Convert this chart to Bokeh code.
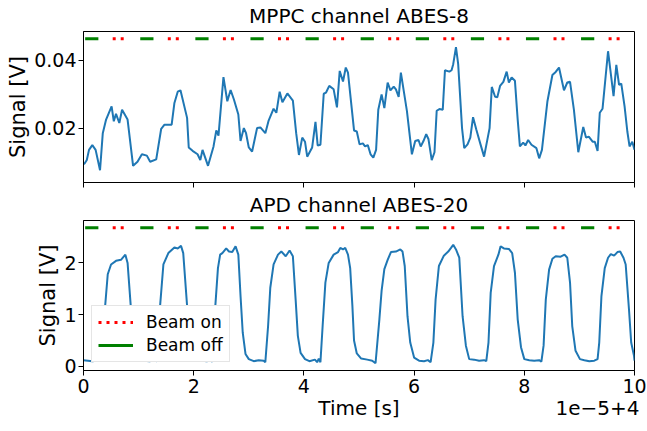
from bokeh.plotting import figure
from bokeh.models import Range1d, FixedTicker, Legend, LegendItem, LinearAxis
from bokeh.layouts import column
from bokeh.embed import file_html
from bokeh.resources import INLINE

# ---------------- data ----------------
t_mppc = [0.00, 0.02, 0.06, 0.10, 0.16, 0.22, 0.30, 0.35, 0.41, 0.51, 0.55, 0.59, 0.65, 0.70,
          0.80, 0.90, 0.98, 1.06, 1.15, 1.21, 1.32, 1.41, 1.47, 1.60, 1.65, 1.71, 1.76, 1.88,
          1.91, 1.98, 2.07, 2.12, 2.16, 2.26, 2.36, 2.41, 2.45, 2.54, 2.61, 2.67, 2.73, 2.81,
          2.85, 2.91, 2.95, 3.00, 3.06, 3.15, 3.21, 3.30, 3.36, 3.45, 3.50, 3.56, 3.61, 3.70,
          3.80, 3.86, 3.91, 3.97, 4.02, 4.06, 4.15, 4.21, 4.25, 4.30, 4.36, 4.40, 4.46, 4.54,
          4.60, 4.65, 4.71, 4.76, 4.80, 4.91, 4.96, 5.01, 5.07, 5.11, 5.16, 5.21, 5.26, 5.31,
          5.35, 5.41, 5.46, 5.52, 5.57, 5.63, 5.67, 5.72, 5.76, 5.87, 5.96, 6.02, 6.08, 6.12,
          6.17, 6.22, 6.26, 6.32, 6.37, 6.41, 6.46, 6.52, 6.56, 6.64, 6.68, 6.71, 6.76, 6.80,
          6.87, 6.91, 6.97, 7.02, 7.07, 7.13, 7.20, 7.27, 7.37, 7.41, 7.47, 7.51, 7.56, 7.62,
          7.68, 7.72, 7.77, 7.83, 7.88, 7.92, 7.98, 8.02, 8.07, 8.13, 8.22, 8.27, 8.32, 8.42,
          8.51, 8.57, 8.63, 8.72, 8.78, 8.83, 8.90, 8.98, 9.07, 9.12, 9.17, 9.24, 9.28, 9.33,
          9.37, 9.42, 9.52, 9.62, 9.67, 9.72, 9.76, 9.82, 9.87, 9.91, 9.96, 10.00]
v_mppc = [0.0094, 0.0096, 0.0106, 0.0136, 0.0150, 0.0136, 0.0076, 0.0185, 0.0225, 0.0264, 0.0220,
          0.0242, 0.0215, 0.0254, 0.0225, 0.0089, 0.0101, 0.0123, 0.0119, 0.0101, 0.0108, 0.0198,
          0.0210, 0.0210, 0.0274, 0.0307, 0.0311, 0.0230, 0.0143, 0.0133, 0.0123, 0.0106, 0.0136,
          0.0089, 0.0146, 0.0193, 0.0178, 0.0350, 0.0279, 0.0312, 0.0284, 0.0240, 0.0162, 0.0200,
          0.0185, 0.0143, 0.0131, 0.0200, 0.0202, 0.0185, 0.0222, 0.0257, 0.0245, 0.0307, 0.0276,
          0.0302, 0.0281, 0.0185, 0.0121, 0.0172, 0.0160, 0.0116, 0.0143, 0.0218, 0.0149, 0.0151,
          0.0301, 0.0304, 0.0324, 0.0314, 0.0261, 0.0368, 0.0337, 0.0378, 0.0363, 0.0193, 0.0190,
          0.0152, 0.0155, 0.0146, 0.0150, 0.0123, 0.0113, 0.0136, 0.0254, 0.0299, 0.0259, 0.0334,
          0.0311, 0.0322, 0.0314, 0.0292, 0.0363, 0.0250, 0.0123, 0.0162, 0.0165, 0.0146, 0.0162,
          0.0182, 0.0168, 0.0106, 0.0129, 0.0251, 0.0256, 0.0254, 0.0370, 0.0366, 0.0370, 0.0388,
          0.0438, 0.0388, 0.0200, 0.0141, 0.0152, 0.0172, 0.0232, 0.0195, 0.0155, 0.0116, 0.0200,
          0.0321, 0.0292, 0.0291, 0.0324, 0.0336, 0.0366, 0.0334, 0.0349, 0.0339, 0.0225, 0.0146,
          0.0157, 0.0149, 0.0165, 0.0151, 0.0141, 0.0111, 0.0136, 0.0279, 0.0356, 0.0365, 0.0378,
          0.0311, 0.0334, 0.0336, 0.0254, 0.0129, 0.0203, 0.0172, 0.0175, 0.0160, 0.0160, 0.0133,
          0.0245, 0.0257, 0.0426, 0.0294, 0.0386, 0.0327, 0.0331, 0.0264, 0.0190, 0.0146, 0.0160,
          0.0136]

t_apd = [0.00, 0.08, 0.16, 0.24, 0.31, 0.35, 0.38, 0.44, 0.50, 0.59, 0.68, 0.76, 0.80, 0.86,
         0.90, 0.95, 1.01, 1.10, 1.20, 1.28, 1.33, 1.36, 1.39, 1.45, 1.54, 1.65, 1.71, 1.77,
         1.81, 1.88, 1.92, 1.97, 2.04, 2.14, 2.24, 2.31, 2.34, 2.36, 2.39, 2.44, 2.48, 2.52,
         2.59, 2.64, 2.70, 2.76, 2.81, 2.85, 2.89, 2.94, 3.00, 3.09, 3.18, 3.27, 3.30, 3.35,
         3.39, 3.45, 3.53, 3.59, 3.67, 3.74, 3.80, 3.85, 3.89, 3.94, 4.02, 4.10, 4.20, 4.24,
         4.27, 4.30, 4.34, 4.39, 4.45, 4.54, 4.62, 4.66, 4.71, 4.75, 4.80, 4.84, 4.88, 4.91,
         4.96, 5.04, 5.15, 5.24, 5.30, 5.37, 5.41, 5.46, 5.52, 5.58, 5.67, 5.75, 5.79, 5.83,
         5.88, 5.93, 6.00, 6.09, 6.18, 6.25, 6.30, 6.35, 6.39, 6.45, 6.54, 6.62, 6.67, 6.71,
         6.76, 6.82, 6.88, 6.94, 7.00, 7.09, 7.18, 7.27, 7.31, 7.35, 7.39, 7.45, 7.53, 7.57,
         7.63, 7.72, 7.78, 7.83, 7.88, 7.94, 8.00, 8.09, 8.18, 8.27, 8.31, 8.35, 8.39, 8.45,
         8.51, 8.57, 8.66, 8.73, 8.78, 8.83, 8.87, 8.93, 9.01, 9.09, 9.18, 9.27, 9.33, 9.36,
         9.40, 9.46, 9.52, 9.57, 9.63, 9.69, 9.74, 9.80, 9.84, 9.90, 9.94, 9.99, 10.00]
v_apd = [0.12, 0.11, 0.10, 0.11, 0.12, 0.45, 1.00, 1.78, 1.97, 2.04, 2.06, 2.16, 2.00, 1.13,
         0.45, 0.20, 0.14, 0.11, 0.10, 0.12, 0.10, 0.50, 1.17, 1.97, 2.19, 2.30, 2.28, 2.33,
         2.19, 1.17, 0.50, 0.22, 0.13, 0.11, 0.10, 0.12, 0.09, 0.50, 1.13, 1.90, 2.16, 2.19,
         2.28, 2.22, 2.21, 2.32, 2.16, 1.36, 0.65, 0.24, 0.14, 0.10, 0.12, 0.11, 0.08, 0.78,
         1.52, 1.97, 2.16, 2.22, 2.13, 2.24, 2.13, 1.29, 0.59, 0.26, 0.14, 0.10, 0.13, 0.08,
         0.15, 0.08, 0.78, 1.62, 2.00, 2.16, 2.21, 2.29, 2.26, 2.29, 2.16, 1.90, 1.17, 0.50,
         0.25, 0.15, 0.13, 0.11, 0.06, 0.91, 1.46, 1.88, 2.06, 2.21, 2.22, 2.26, 2.22, 1.94,
         0.97, 0.46, 0.17, 0.11, 0.10, 0.12, 0.08, 0.46, 1.29, 1.94, 2.14, 2.22, 2.29, 2.35,
         2.26, 2.10, 0.97, 0.40, 0.14, 0.13, 0.11, 0.12, 0.10, 0.46, 1.42, 1.94, 2.16, 2.32,
         2.28, 2.27, 2.19, 1.81, 0.91, 0.37, 0.14, 0.12, 0.11, 0.12, 0.09, 0.40, 1.29, 1.87,
         2.08, 2.13, 2.12, 2.16, 2.10, 1.62, 0.78, 0.30, 0.14, 0.12, 0.10, 0.11, 0.14, 0.46,
         1.36, 1.90, 2.10, 2.17, 2.14, 2.21, 2.22, 2.10, 1.97, 1.10, 0.46, 0.21, 0.11]

beam_on_start = [0.53, 1.53, 2.53, 3.53, 4.53, 5.53, 6.53, 7.53, 8.53, 9.53]
beam_on_end = [0.75, 1.75, 2.75, 3.75, 4.75, 5.75, 6.75, 7.75, 8.75, 9.75]
beam_off_start = [0.03, 1.03, 2.03, 3.03, 4.03, 5.03, 6.03, 7.03, 8.03, 9.03]
beam_off_end = [0.27, 1.27, 2.27, 3.27, 4.27, 5.27, 6.27, 7.27, 8.27, 9.27]
marker_level_mppc = 0.0463
marker_level_apd = 2.68

x_ticks = [0, 2, 4, 6, 8, 10]
mppc_ticks = [0.02, 0.04]
apd_ticks = [0, 1, 2]
x_label = "Time [s]"
offset_text = "1e\u22125+4"
x_label_pos = 5.0       # centre of the x-axis label (data units)
offset_text_pos = 9.33  # centre of the offset text (data units)

FONT = "DejaVu Sans"
BLUE = "#1f77b4"


def style(p, yticks):
    p.outline_line_color = "black"
    p.outline_line_width = 1
    p.xgrid.visible = False
    p.ygrid.visible = False
    p.title.text_font = FONT
    p.title.text_font_size = "20px"
    p.title.text_font_style = "normal"
    p.title.text_color = "black"
    p.title.align = "center"
    p.title.vertical_align = "top"
    p.title.standoff = 4
    for ax in (p.xaxis[0], p.yaxis[0]):
        ax.axis_line_color = "black"
        ax.major_tick_line_color = "black"
        ax.major_tick_out = 5
        ax.major_tick_in = 0
        ax.minor_tick_line_color = None
        ax.major_label_text_font = FONT
        ax.major_label_text_font_size = "19px"
        ax.major_label_text_color = "black"
        ax.axis_label_text_font = FONT
        ax.axis_label_text_font_size = "21px"
        ax.axis_label_text_font_style = "normal"
        ax.axis_label_text_color = "black"
        ax.major_label_standoff = 4
    p.yaxis.major_label_standoff = 2
    p.xaxis.ticker = FixedTicker(ticks=x_ticks)
    p.yaxis.ticker = FixedTicker(ticks=yticks)
    p.yaxis.axis_label = "Signal [V]"
    p.yaxis.axis_label_standoff = 1


def segments(starts, ends, level):
    xs = [[s, e] for s, e in zip(starts, ends)]
    ys = [[level, level] for _ in starts]
    return xs, ys


# ---------------- top panel ----------------
p1 = figure(width=647, height=190, output_backend="svg", toolbar_location=None,
            x_range=Range1d(0, 10), y_range=Range1d(0.0040, 0.0484),
            title="MPPC channel ABES-8",
            min_border_left=83, min_border_right=13, min_border_top=31, min_border_bottom=8)
style(p1, mppc_ticks)
p1.xaxis.major_label_overrides = {t: "" for t in x_ticks}
p1.xaxis.major_label_standoff = 0

p1.line(t_mppc, v_mppc, line_color=BLUE, line_width=2)
xs, ys = segments(beam_on_start, beam_on_end, marker_level_mppc)
p1.multi_line(xs, ys, line_color="red", line_width=3, line_dash="3 5", line_cap="butt")
xs, ys = segments(beam_off_start, beam_off_end, marker_level_mppc)
p1.multi_line(xs, ys, line_color="green", line_width=3, line_cap="butt")

# ---------------- bottom panel ----------------
p2 = figure(width=647, height=241, output_backend="svg", toolbar_location=None,
            x_range=Range1d(0, 10), y_range=Range1d(-0.08, 2.82),
            title="APD channel ABES-20",
            min_border_left=83, min_border_right=13, min_border_top=28, min_border_bottom=61)
style(p2, apd_ticks)
p2.xaxis.major_label_standoff = 3

# second, tick-less axis carrying the x label and the offset text on one line
lab_axis = LinearAxis(ticker=FixedTicker(ticks=[x_label_pos, offset_text_pos]),
                      major_label_overrides={x_label_pos: x_label, offset_text_pos: offset_text},
                      axis_line_color=None, major_tick_line_color=None,
                      minor_tick_line_color=None, major_tick_out=0, major_tick_in=0,
                      major_label_standoff=0, major_label_text_font=FONT,
                      major_label_text_font_size="20px", major_label_text_color="black")
p2.add_layout(lab_axis, "below")

p2.line(t_apd, v_apd, line_color=BLUE, line_width=2)
xs, ys = segments(beam_on_start, beam_on_end, marker_level_apd)
r_on = p2.multi_line(xs, ys, line_color="red", line_width=3, line_dash="3 5", line_cap="butt")
xs, ys = segments(beam_off_start, beam_off_end, marker_level_apd)
r_off = p2.multi_line(xs, ys, line_color="green", line_width=3, line_cap="butt")

legend = Legend(items=[LegendItem(label="Beam on", renderers=[r_on]),
                       LegendItem(label="Beam off", renderers=[r_off])],
                location=(8, 8), glyph_width=35, glyph_height=20, label_height=20,
                label_standoff=13, spacing=3, padding=6, margin=0,
                label_text_font=FONT, label_text_font_size="17px", label_text_color="black",
                border_line_color="#cccccc", border_line_width=1,
                background_fill_color="white", background_fill_alpha=1.0)
p2.add_layout(legend)

layout = column(p1, p2, spacing=0)
open("out.html", "w").write(file_html(layout, INLINE))
